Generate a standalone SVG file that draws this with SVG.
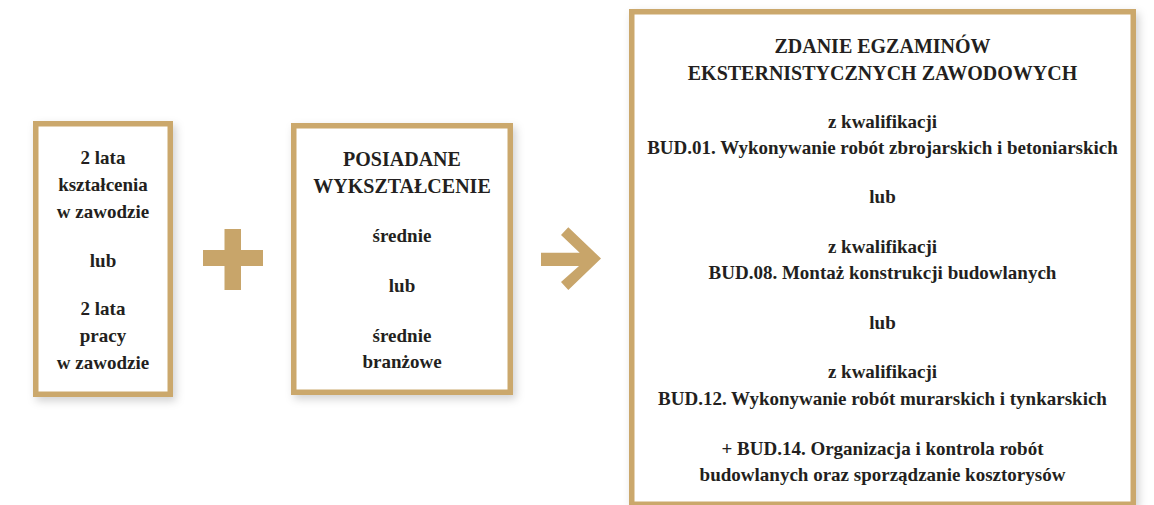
<svg xmlns="http://www.w3.org/2000/svg" width="1154" height="505" viewBox="0 0 1154 505">
<defs>
<filter id="sh" x="-10%" y="-10%" width="130%" height="130%">
<feDropShadow dx="3" dy="4" stdDeviation="4" flood-color="#000" flood-opacity="0.18"/>
</filter>
<style>
.box{fill:#fff;stroke:#CBA86C;stroke-width:5.5;filter:url(#sh)}
.t{font-family:"Liberation Serif","Times New Roman",serif;font-weight:bold;font-size:19px;fill:#231F20;text-anchor:middle}
.c{font-size:20px}
.gold{fill:#C8A56A}
</style>
</defs>
<rect width="1154" height="505" fill="#fff"/>
<g id="node-1">
<rect class="box" x="35.75" y="123.75" width="134.5" height="270.5"/>
<text class="t" x="103" y="164">2 lata</text>
<text class="t" x="103" y="191">kształcenia</text>
<text class="t" x="103" y="218">w zawodzie</text>
<text class="t" x="103" y="267">lub</text>
<text class="t" x="103" y="315">2 lata</text>
<text class="t" x="103" y="342">pracy</text>
<text class="t" x="103" y="369">w zawodzie</text>
</g>
<g id="node-2">
<rect class="box" x="293.75" y="125.75" width="216.5" height="266.5"/>
<text class="t c" x="402" y="166">POSIADANE</text>
<text class="t c" x="402" y="193">WYKSZTAŁCENIE</text>
<text class="t" x="402" y="242">średnie</text>
<text class="t" x="402" y="292">lub</text>
<text class="t" x="402" y="342">średnie</text>
<text class="t" x="402" y="368">branżowe</text>
</g>
<g id="node-3">
<rect class="box" x="631.75" y="11.75" width="501.5" height="492.5"/>
<text class="t c" x="882.5" y="53">ZDANIE EGZAMINÓW</text>
<text class="t c" x="882.5" y="80">EKSTERNISTYCZNYCH ZAWODOWYCH</text>
<text class="t" x="882.5" y="128">z kwalifikacji</text>
<text class="t" x="882.5" y="154">BUD.01. Wykonywanie robót zbrojarskich i betoniarskich</text>
<text class="t" x="882.5" y="203">lub</text>
<text class="t" x="882.5" y="253">z kwalifikacji</text>
<text class="t" x="882.5" y="279">BUD.08. Montaż konstrukcji budowlanych</text>
<text class="t" x="882.5" y="329">lub</text>
<text class="t" x="882.5" y="378">z kwalifikacji</text>
<text class="t" x="882.5" y="405">BUD.12. Wykonywanie robót murarskich i tynkarskich</text>
<text class="t" x="882.5" y="455">+ BUD.14. Organizacja i kontrola robót</text>
<text class="t" x="882.5" y="481">budowlanych oraz sporządzanie kosztorysów</text>
</g>
<g id="connectors">
<path class="gold" d="M224.5 229H241V250H263V266H241V290H224.5V266H203V250H224.5Z"/>
<path class="gold" d="M541 252.7H579.7L561 235L568.3 227.3L601 258.5L568.3 290L561 282L579 265.9H541Z"/>
</g>
</svg>
